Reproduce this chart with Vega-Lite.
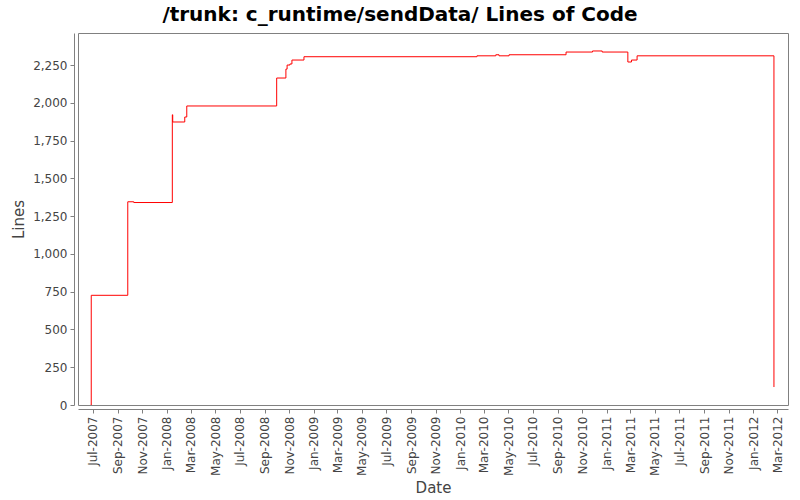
{
  "$schema": "https://vega.github.io/schema/vega-lite/v6.json",
  "autosize": {"type": "none"},
  "width": 710,
  "height": 372,
  "padding": {"left": 78, "top": 33, "right": 12, "bottom": 95},
  "background": "white",
  "title": {
    "text": "/trunk: c_runtime/sendData/ Lines of Code",
    "font": "DejaVu Sans",
    "fontSize": 20,
    "fontWeight": "bold",
    "color": "black",
    "anchor": "middle",
    "dx": -33,
    "offset": 8
  },
  "config": {
    "view": {"stroke": "#808080", "strokeWidth": 1},
    "axis": {
      "labelFont": "DejaVu Sans",
      "titleFont": "DejaVu Sans",
      "labelColor": "#444444",
      "titleColor": "#444444",
      "domainColor": "#808080",
      "tickColor": "#808080",
      "grid": false,
      "titleFontWeight": "normal"
    }
  },
  "data": {
    "values": [
      {"date": "2007-06-26T00:00:00", "lines": 0},
      {"date": "2007-06-27T00:00:00", "lines": 726},
      {"date": "2007-09-26T00:00:00", "lines": 1345},
      {"date": "2007-10-11T00:00:00", "lines": 1340},
      {"date": "2008-01-15T00:00:00", "lines": 1921},
      {"date": "2008-01-16T00:00:00", "lines": 1873},
      {"date": "2008-02-15T00:00:00", "lines": 1906},
      {"date": "2008-02-20T00:00:00", "lines": 1979},
      {"date": "2008-10-01T00:00:00", "lines": 2164},
      {"date": "2008-10-24T00:00:00", "lines": 2223},
      {"date": "2008-10-27T00:00:00", "lines": 2250},
      {"date": "2008-11-03T00:00:00", "lines": 2257},
      {"date": "2008-11-08T00:00:00", "lines": 2283},
      {"date": "2008-12-08T00:00:00", "lines": 2305},
      {"date": "2010-02-12T00:00:00", "lines": 2311},
      {"date": "2010-03-31T00:00:00", "lines": 2318},
      {"date": "2010-04-08T00:00:00", "lines": 2311},
      {"date": "2010-05-03T00:00:00", "lines": 2318},
      {"date": "2010-09-22T00:00:00", "lines": 2336},
      {"date": "2010-11-27T00:00:00", "lines": 2343},
      {"date": "2010-12-21T00:00:00", "lines": 2336},
      {"date": "2011-02-23T00:00:00", "lines": 2270},
      {"date": "2011-03-04T00:00:00", "lines": 2283},
      {"date": "2011-03-18T00:00:00", "lines": 2311},
      {"date": "2012-02-22T00:00:00", "lines": 119}
    ]
  },
  "mark": {"type": "line", "interpolate": "step-after", "color": "#ff0000", "strokeWidth": 1, "clip": true},
  "encoding": {
    "x": {
      "field": "date",
      "type": "temporal",
      "title": "Date",
      "scale": {
        "domain": [
          {"year": 2007, "month": 5, "date": 25},
          {"year": 2012, "month": 3, "date": 28}
        ],
        "nice": false
      },
      "axis": {
        "offset": 4,
        "format": "%b-%Y",
        "labelAngle": 270,
        "labelFontSize": 12,
        "labelPadding": 3,
        "tickSize": 4,
        "tickCount": {"interval": "month", "step": 2},
        "labelOverlap": false,
        "titleFontSize": 15,
        "titlePadding": 5
      }
    },
    "y": {
      "field": "lines",
      "type": "quantitative",
      "title": "Lines",
      "scale": {"domain": [0, 2462], "nice": false, "zero": true},
      "axis": {
        "offset": 4,
        "values": [0, 250, 500, 750, 1000, 1250, 1500, 1750, 2000, 2250],
        "format": ",d",
        "labelFontSize": 12,
        "labelPadding": 3,
        "tickSize": 4,
        "titleFontSize": 15,
        "titlePadding": 6
      }
    }
  }
}
